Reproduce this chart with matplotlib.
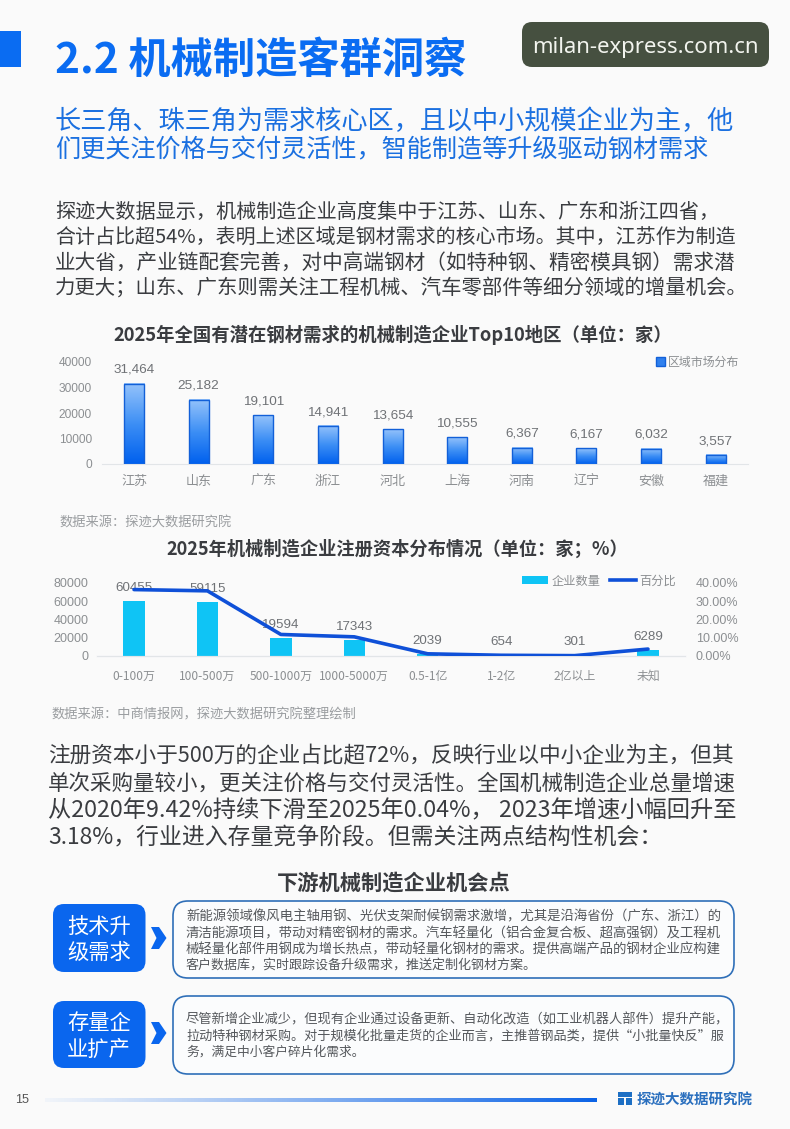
import numpy as np
import matplotlib
matplotlib.use("Agg")
import matplotlib.pyplot as plt
from matplotlib.patches import FancyBboxPatch, Rectangle, Polygon, Patch
from matplotlib.lines import Line2D
from matplotlib.colors import LinearSegmentedColormap

plt.rcParams['font.family'] = ['Noto Sans CJK SC', 'DejaVu Sans']

# ---------- data ----------
regions = ['江苏', '山东', '广东', '浙江', '河北', '上海', '河南', '辽宁', '安徽', '福建']
region_values = [31464, 25182, 19101, 14941, 13654, 10555, 6367, 6167, 6032, 3557]
capital_bands = ['0-100万', '100-500万', '500-1000万', '1000-5000万', '0.5-1亿', '1-2亿', '2亿以上', '未知']
capital_counts = [60455, 59115, 19594, 17343, 2039, 654, 301, 6289]
capital_share = [36.4, 35.7, 11.8, 10.5, 1.2, 0.4, 0.2, 3.8]
left_ticks = [0, 10000, 20000, 30000, 40000]
mid_ticks = [0, 20000, 40000, 60000, 80000]
right_ticks = [0, 10, 20, 30, 40]

W, H = 790, 1129
BG = '#fafafa'
GREY = '#8c8f92'
DARK = '#3a3c40'
BLUE = '#0a6cf2'

fig = plt.figure(figsize=(W / 100, H / 100), dpi=100, facecolor=BG)
page = fig.add_axes([0, 0, 1, 1], zorder=0)
page.set_xlim(0, W)
page.set_ylim(H, 0)
page.axis('off')
renderer = fig.canvas.get_renderer()


def fit(x, y, s, x_end, color=DARK, weight='normal', ha='left', guess=12, **kw):
    t = page.text(x, y, s, fontsize=guess, color=color, fontweight=weight, va='center', ha=ha, **kw)
    size = guess * (x_end - x) / t.get_window_extent(renderer).width
    t.set_fontsize(size)
    t.set_y(y + 0.11 * size * 100 / 72)
    return t


def axes_px(left, right, top, bottom):
    return fig.add_axes([left / W, 1 - bottom / H, (right - left) / W, (bottom - top) / H], zorder=2)


def box(x0, y0, x1, y1, r, **kw):
    page.add_patch(FancyBboxPatch((x0, y0), x1 - x0, y1 - y0,
                                  boxstyle=f'round,pad=0,rounding_size={r}', **kw))


# ---------- header ----------
page.add_patch(Rectangle((0, 31), 21, 36, color=BLUE, lw=0))
fit(55, 56, '2.2 机械制造客群洞察', 466, color=BLUE, weight='bold', guess=28)
box(522, 22, 769, 67, 10, fc='#465040', ec='none')
fit(532, 45, 'milan-express.com.cn', 758, color='#f2f4ee', guess=16, family='Noto Sans')

SUB = '#1b70e0'
fit(55, 119, '长三角、珠三角为需求核心区，且以中小规模企业为主，他', 736, color=SUB, guess=18)
fit(55, 148, '们更关注价格与交付灵活性，智能制造等升级驱动钢材需求', 710, color=SUB, guess=18)

intro = [(210, '探迹大数据显示，机械制造企业高度集中于江苏、山东、广东和浙江四省，', 722),
         (235, '合计占比超54%，表明上述区域是钢材需求的核心市场。其中，江苏作为制造', 737),
         (261, '业大省，产业链配套完善，对中高端钢材（如特种钢、精密模具钢）需求潜', 737),
         (286, '力更大；山东、广东则需关注工程机械、汽车零部件等细分领域的增量机会。', 750)]
for y, s, xe in intro:
    fit(55, y, s, xe, guess=14)

# ---------- chart 1 ----------
fit(113, 333, '2025年全国有潜在钢材需求的机械制造企业Top10地区（单位：家）', 672, weight='bold', guess=12)
ax1 = axes_px(101.7, 748, 362, 464)
ax1.patch.set_alpha(0)
x1 = np.arange(len(regions))
bars = ax1.bar(x1, region_values, width=0.31, facecolor='none', edgecolor='#1260d8', linewidth=1.0, zorder=3)
cmap = LinearSegmentedColormap.from_list('b', ['#95c3fb', '#3d8ff5', '#0060ee'])
grad = np.linspace(0, 1, 128).reshape(-1, 1)
for b in bars:
    ax1.imshow(grad, cmap=cmap, aspect='auto', zorder=2,
               extent=(b.get_x(), b.get_x() + b.get_width(), 0, b.get_height()))
ax1.set_xlim(-0.5, len(regions) - 0.5)
ax1.set_ylim(0, 40000)
ax1.set_yticks(left_ticks)
ax1.set_xticks(x1, regions)
for v, xp in zip(region_values, x1):
    ax1.annotate(f'{v:,}', (xp, v), xytext=(0, 10), textcoords='offset points',
                 ha='center', va='center', fontsize=9.7, color='#6f7276', family='Liberation Sans')
for lab in ax1.get_yticklabels():
    lab.set_family('Liberation Sans')
ax1.tick_params(axis='both', length=0, labelcolor=GREY, labelsize=8.6)
ax1.tick_params(axis='x', pad=8, labelsize=9.4)
ax1.tick_params(axis='y', pad=7)
for k, sp in ax1.spines.items():
    sp.set_visible(k == 'bottom')
ax1.spines['bottom'].set_color('#e2e5e8')
ax1.legend(handles=[Patch(facecolor='#2f80ee', edgecolor='#1260d8', label='区域市场分布')],
           loc='center right', bbox_to_anchor=(739.5 / W, 1 - 362 / H), bbox_transform=fig.transFigure,
           frameon=False, fontsize=8.6, labelcolor=GREY, handlelength=0.7, handleheight=0.7,
           handletextpad=0.3, borderpad=0, borderaxespad=0)
fit(59, 522, '数据来源：探迹大数据研究院', 231, color='#9a9da0', guess=9)

# ---------- chart 2 ----------
fit(166, 547, '2025年机械制造企业注册资本分布情况（单位：家；%）', 627, weight='bold', guess=12)
ax2 = axes_px(97.3, 684.7, 583, 656)
ax2.patch.set_alpha(0)
x2 = np.arange(len(capital_bands))
ax2.bar(x2, capital_counts, width=0.29, color='#0fc4f5', zorder=2)
ax2.set_xlim(-0.5, len(capital_bands) - 0.5)
ax2.set_ylim(0, 80000)
ax2.set_yticks(mid_ticks)
ax2.set_xticks(x2, capital_bands)
ax3 = ax2.twinx()
ax3.patch.set_alpha(0)
ax3.plot(x2, capital_share, color='#0f50d8', lw=2.6, zorder=4, solid_capstyle='round')
ax3.set_ylim(0, 40)
ax3.set_yticks(right_ticks, [f'{v:.2f}%' for v in right_ticks])
for v, xp in zip(capital_counts, x2):
    ax2.annotate(f'{v}', (xp, v), xytext=(0, 9.6), textcoords='offset points',
                 ha='center', va='center', fontsize=9.6, color='#6f7276', family='Liberation Sans')
for a in (ax2, ax3):
    a.tick_params(axis='both', length=0, labelcolor=GREY, labelsize=9)
    for lab in a.get_yticklabels():
        lab.set_family('Liberation Sans')
    for k, sp in a.spines.items():
        sp.set_visible(k == 'bottom')
    a.spines['bottom'].set_color('#e2e5e8')
ax2.tick_params(axis='x', pad=10, labelsize=8.6)
ax2.tick_params(axis='y', pad=6.5)
ax3.tick_params(axis='y', pad=8)
ax2.legend(handles=[Patch(facecolor='#0fc4f5', label='企业数量'),
                    Line2D([0], [0], color='#0f50d8', lw=2.6, label='百分比')],
           ncol=2, loc='center right', bbox_to_anchor=(676.5 / W, 1 - 581 / H), bbox_transform=fig.transFigure,
           frameon=False, fontsize=8.8, labelcolor=GREY, handlelength=2.1, handleheight=0.6,
           handletextpad=0.3, columnspacing=0.8, borderpad=0, borderaxespad=0)
fit(52, 713, '数据来源：中商情报网，探迹大数据研究院整理绘制', 357, color='#9a9da0', guess=9)

# ---------- paragraph ----------
para = [(754, '注册资本小于500万的企业占比超72%，反映行业以中小企业为主，但其', 736),
        (781, '单次采购量较小，更关注价格与交付灵活性。全国机械制造企业总量增速', 736),
        (808, '从2020年9.42%持续下滑至2025年0.04%， 2023年增速小幅回升至', 736),
        (835, '3.18%，行业进入存量竞争阶段。但需关注两点结构性机会：', 663)]
for y, s, xe in para:
    fit(48, y, s, xe, guess=15)

# ---------- opportunity boxes ----------
fit(277, 881, '下游机械制造企业机会点', 511, weight='bold', guess=15)
cards = [
    (904, 972, 901, 978, 938, ['技术升', '级需求'], [925, 951],
     [(915, '新能源领域像风电主轴用钢、光伏支架耐候钢需求激增，尤其是沿海省份（广东、浙江）的', 720),
      (932, '清洁能源项目，带动对精密钢材的需求。汽车轻量化（铝合金复合板、超高强钢）及工程机', 720),
      (948, '械轻量化部件用钢成为增长热点，带动轻量化钢材的需求。提供高端产品的钢材企业应构建', 720),
      (964, '客户数据库，实时跟踪设备升级需求，推送定制化钢材方案。', 537)]),
    (1001, 1068, 996, 1074, 1033, ['存量企', '业扩产'], [1021, 1047],
     [(1018, '尽管新增企业减少，但现有企业通过设备更新、自动化改造（如工业机器人部件）提升产能，', 727),
      (1035, '拉动特种钢材采购。对于规模化批量走货的企业而言，主推普钢品类，提供“小批量快反”服', 721),
      (1051, '务，满足中小客户碎片化需求。', 364)]),
]
for y0, y1, ry0, ry1, cy, heads, head_y, lines in cards:
    box(53, y0, 145.5, y1, 11, fc='#0a66ee', ec='none')
    box(173, ry0, 734, ry1, 15, fc='#fbfcfd', ec='#2f6fb8', lw=1.2)
    for s, y in zip(heads, head_y):
        fit(67, y, s, 131, color='white', guess=15)
    page.add_patch(Polygon([(151, cy - 11), (159, cy - 11), (166.5, cy), (159, cy + 11), (151, cy + 11), (156.5, cy)],
                           closed=True, fc='#0a66ee', ec='none'))
    for y, s, xe in lines:
        fit(186, y, s, xe, color='#55585c', guess=8.5)

# ---------- footer ----------
fit(15, 1099, '15', 29, color='#555', guess=8, family='Liberation Sans')
rgba = np.zeros((1, 256, 4))
rgba[..., :3] = matplotlib.colors.to_rgb('#0a62e6')
rgba[..., 3] = np.linspace(0.05, 1, 256) ** 1.1
page.imshow(rgba, extent=(45, 597, 1102, 1098), aspect='auto', zorder=1)
page.set_xlim(0, W)
page.set_ylim(H, 0)
page.add_patch(Rectangle((618, 1092), 14, 4.5, color='#1d6fc4', lw=0))
page.add_patch(Rectangle((618, 1098), 5.5, 7, color='#1d6fc4', lw=0))
page.add_patch(Rectangle((626, 1098), 6, 7, color='#1d6fc4', lw=0))
fit(637, 1098, '探迹大数据研究院', 753, color='#2a6fbe', weight='bold', guess=10)

fig.savefig('out.png', dpi=100, facecolor=BG)
